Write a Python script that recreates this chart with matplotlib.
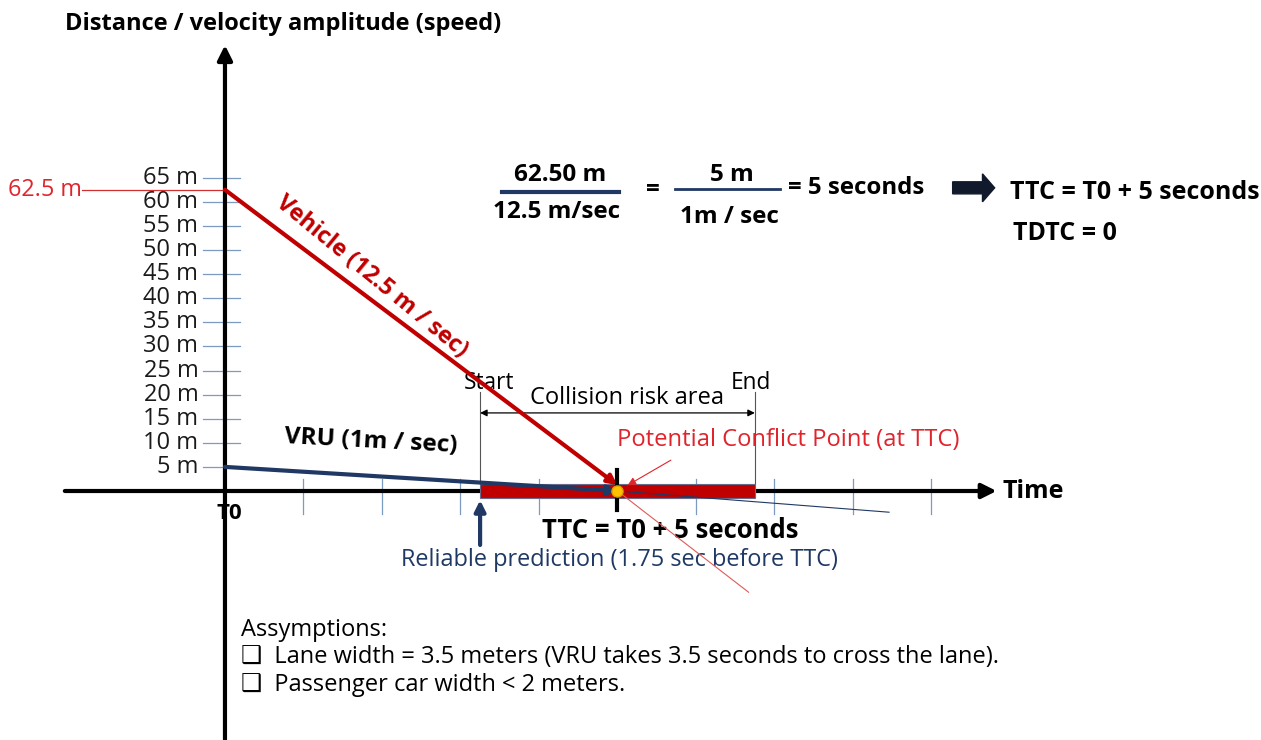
import numpy as np
import matplotlib
matplotlib.use("Agg")
from matplotlib import pyplot as plt
from matplotlib.patches import FancyArrow

plt.rcParams['font.family'] = ['Open Sans', 'DejaVu Sans']

# data (time in seconds, distance in metres)
vehicle_t = [0, 5]
vehicle_d = [62.5, 0]
vehicle_ext_t = [5, 6.67]
vehicle_ext_d = [0, -21]
vru_t = [0, 5]
vru_d = [5, 0]
vru_ext_t = [5, 8.46]
vru_ext_d = [0, -4.4]
ttc = 5
risk_start = 3.25
risk_end = 6.75
ytick_vals = [5, 10, 15, 20, 25, 30, 35, 40, 45, 50, 55, 60, 65]
ytick_labels = [f"{v} m" for v in ytick_vals]
xtick_vals = [1, 2, 3, 4, 6, 7, 8, 9]

RED = '#c00000'
LRED = '#e0242c'
NAVY = '#1f3864'
TICKBLUE = '#7b9cc0'

fig = plt.figure(figsize=(12.61, 7.40), dpi=100)
ax = fig.add_axes([0, 0, 1, 1])
ax.set_xlim(-2.866, 13.198)
ax.set_ylim(-51.66, 101.87)
ax.axis('off')

# tick marks
for v, lab in zip(ytick_vals, ytick_labels):
    ax.plot([-0.28, 0.19], [v, v], color=TICKBLUE, lw=0.9, zorder=1)
    ax.text(-0.34, v, lab, ha='right', va='center', fontsize=17, color='#1a1a1a')
for t in xtick_vals:
    ax.plot([t, t], [2.4, -4.8], color=TICKBLUE, lw=0.9, zorder=1)

# main axes with arrow heads
ax.annotate("", xy=(9.83, 0), xytext=(-2.04, 0),
            arrowprops=dict(arrowstyle='-|>', lw=3, color='black', mutation_scale=22,
                            shrinkA=0, shrinkB=0), zorder=2)
ax.annotate("", xy=(0, 92.5), xytext=(0, -52),
            arrowprops=dict(arrowstyle='-|>', lw=3, color='black', mutation_scale=22,
                            shrinkA=0, shrinkB=0), zorder=2)
ax.text(9.9, 0, "Time", ha='left', va='center', fontsize=18, fontweight='bold')
ax.text(0.05, -4.6, "T0", ha='center', va='center', fontsize=16, fontweight='bold')
ax.text(-2.04, 96.8, "Distance / velocity amplitude (speed)", ha='left', va='center',
        fontsize=17, fontweight='bold')

# collision risk bar
ax.barh(0, risk_end - risk_start, left=risk_start, height=2.8, color=RED,
        edgecolor='#6a6a8a', lw=0.8, zorder=3)
for t in (risk_start, risk_end):
    ax.plot([t, t], [1.4, 20.5], color='#555555', lw=0.8, zorder=2)
ax.annotate("", xy=(risk_end, 16.2), xytext=(risk_start, 16.2),
            arrowprops=dict(arrowstyle='<|-|>', lw=0.9, color='black', mutation_scale=10,
                            shrinkA=0, shrinkB=0))
ax.text(risk_start + 0.12, 22.4, "Start", ha='center', va='center', fontsize=16.3)
ax.text(risk_end - 0.05, 22.4, "End", ha='center', va='center', fontsize=16.3)
ax.text(5.12, 19.3, "Collision risk area", ha='center', va='center', fontsize=17)

# vehicle & VRU trajectories
ax.plot(vehicle_ext_t, vehicle_ext_d, color='#e05a5a', lw=0.8, zorder=4)
ax.plot(vru_ext_t, vru_ext_d, color=NAVY, lw=0.8, zorder=4)
ax.annotate("", xy=(vehicle_t[1], vehicle_d[1] + 1.2), xytext=(vehicle_t[0], vehicle_d[0]),
            arrowprops=dict(arrowstyle='-|>', lw=3, color=RED, mutation_scale=14,
                            shrinkA=0, shrinkB=0), zorder=5)
ax.annotate("", xy=(vru_t[1], vru_d[1]), xytext=(vru_t[0], vru_d[0]),
            arrowprops=dict(arrowstyle='-|>', lw=3, color=NAVY, mutation_scale=14,
                            shrinkA=0, shrinkB=0), zorder=5)
ax.plot([-1.82, 0], [vehicle_d[0], vehicle_d[0]], color='#d03030', lw=0.9, zorder=4)
ax.text(-1.82, vehicle_d[0], "62.5 m", ha='right', va='center', fontsize=16.8, color=LRED)

ax.text(1.87, 44.4, "Vehicle (12.5 m / sec)", ha='center', va='center', fontsize=16.8,
        fontweight='bold', color=RED, rotation=-39.5, rotation_mode='anchor')
ax.text(1.86, 10.2, "VRU (1m / sec)", ha='center', va='center', fontsize=17.6,
        fontweight='bold', rotation=-3, rotation_mode='anchor')

# TTC marker and conflict point
ax.plot([ttc, ttc], [4.4, -3.9], color='black', lw=3, zorder=6)
ax.plot([ttc], [0], 'o', ms=8, mfc='#ffc000', mec='#e0a000', zorder=7)
ax.annotate("", xy=(5.13, 1.2), xytext=(5.68, 6.4),
            arrowprops=dict(arrowstyle='-|>', lw=0.8, color=LRED, mutation_scale=12,
                            shrinkA=0, shrinkB=0))
ax.text(7.17, 10.6, "Potential Conflict Point (at TTC)", ha='center', va='center',
        fontsize=17.1, color=LRED)
ax.text(5.67, -8.1, "TTC = T0 + 5 seconds", ha='center', va='center', fontsize=18.5,
        fontweight='bold')

# reliable prediction arrow
ax.annotate("", xy=(risk_start, -1.9), xytext=(risk_start, -11.2),
            arrowprops=dict(arrowstyle='-|>', lw=3, color=NAVY, mutation_scale=16,
                            shrinkA=0, shrinkB=0))
ax.text(5.02, -14.3, "Reliable prediction (1.75 sec before TTC)", ha='center', va='center',
        fontsize=16.9, color=NAVY)

# formula block
ax.text(4.27, 65.6, "62.50 m", ha='center', va='center', fontsize=17.5, fontweight='bold')
ax.plot([3.53, 5.02], [62.0, 62.0], color=NAVY, lw=3)
ax.text(4.22, 57.9, "12.5 m/sec", ha='center', va='center', fontsize=17.5, fontweight='bold')
ax.text(5.45, 62.4, "=", ha='center', va='center', fontsize=17.5, fontweight='bold')
ax.text(6.46, 65.6, "5 m", ha='center', va='center', fontsize=17.5, fontweight='bold')
ax.plot([5.73, 7.07], [62.7, 62.7], color=NAVY, lw=2)
ax.text(6.43, 56.8, "1m / sec", ha='center', va='center', fontsize=17.5, fontweight='bold')
ax.text(7.17, 62.9, "= 5 seconds", ha='left', va='center', fontsize=17.3, fontweight='bold')
ax.add_patch(FancyArrow(9.27, 62.9, 0.38, 0, width=2.5, head_width=5.8, head_length=0.155,
                        length_includes_head=False, color='#101a2c'))
ax.text(10.0, 62.0, "TTC = T0 + 5 seconds", ha='left', va='center', fontsize=18,
        fontweight='bold')
ax.text(10.04, 53.5, "TDTC = 0", ha='left', va='center', fontsize=18, fontweight='bold')

# assumptions
ax.text(0.2, -28.8, "Assymptions:", ha='left', va='center', fontsize=17)
ax.text(0.2, -34.4, "\u2751  Lane width = 3.5 meters (VRU takes 3.5 seconds to cross the lane).",
        ha='left', va='center', fontsize=17)
ax.text(0.2, -40.2, "\u2751  Passenger car width < 2 meters.", ha='left', va='center', fontsize=17)

fig.savefig("out.png", dpi=100)
